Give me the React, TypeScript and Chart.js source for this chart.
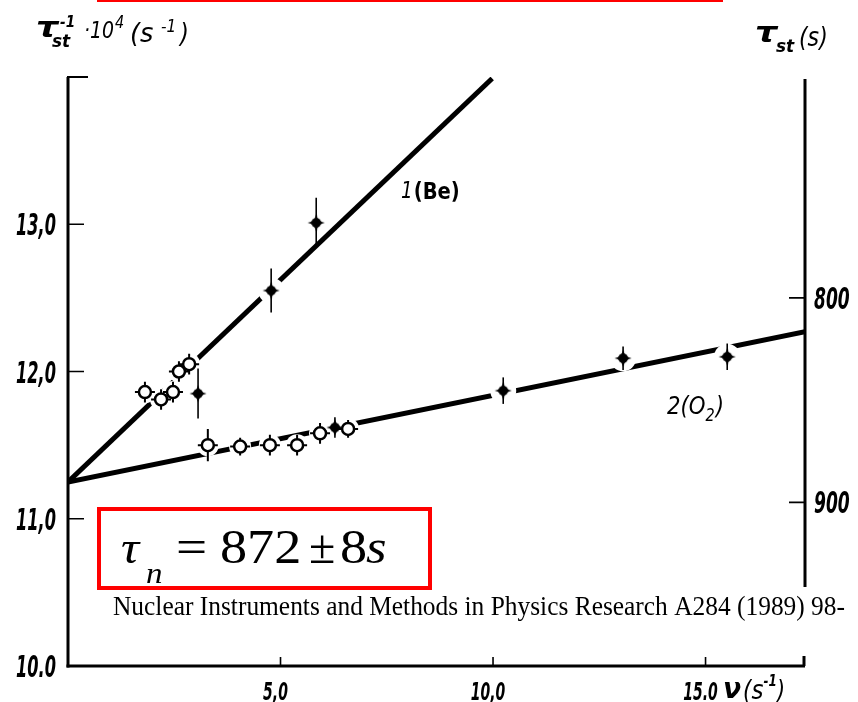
import { useEffect, useRef } from "react";
import { Chart, registerables } from "chart.js";

Chart.register(...registerables);

// ---- Measured storage rates, curve 1 (Be): open and filled symbols ----
const beOpenNu = [1.81, 2.19, 2.47, 2.61, 2.85];
const beOpenRate = [11.86, 11.81, 11.86, 12.0, 12.05];
const beOpenErr = [0.07, 0.07, 0.07, 0.07, 0.07];
const beFilledNu = [3.06, 4.78, 5.84];
const beFilledRate = [11.85, 12.55, 13.01];
const beFilledErr = [0.17, 0.15, 0.17];

// ---- Curve 2 (O2) ----
const oxOpenNu = [3.29, 4.05, 4.75, 5.39, 5.93, 6.59];
const oxOpenRate = [11.5, 11.49, 11.5, 11.5, 11.58, 11.61];
const oxOpenErr = [0.11, 0.06, 0.07, 0.07, 0.07, 0.06];
const oxFilledNu = [6.28, 10.24, 13.06, 15.51];
const oxFilledRate = [11.62, 11.87, 12.09, 12.1];
const oxFilledErr = [0.07, 0.09, 0.08, 0.09];

// ---- Straight-line fits extrapolated to nu = 0 ----
const fitBeNu = [0, 9.98];
const fitBeRate = [11.25, 13.99];
const fitOxNu = [0, 17.34];
const fitOxRate = [11.25, 12.27];

// ---- Axes ----
const nuMax = 17.34;
const rateMin = 10;
const rateMax = 14;
const rateTicks = [10, 11, 12, 13];
const rateTickLabels = ["10.0", "11,0", "12,0", "13,0"];
const nuTicks = [5, 10, 15];
const nuTickLabels = ["5,0", "10,0", "15.0"];
const tauTicks = [800, 900];
const tauTickLabels = ["800", "900"];

const SANS = '"DejaVu Sans", "Liberation Sans", sans-serif';
const SERIF = '"Liberation Serif", "DejaVu Serif", serif';

function pts(xs: number[], ys: number[]) {
  return xs.map((x, i) => ({ x, y: ys[i] }));
}

function starMarker(): HTMLCanvasElement {
  const c = document.createElement("canvas");
  c.width = 18;
  c.height = 18;
  const g = c.getContext("2d")!;
  g.fillStyle = "#000";
  g.beginPath();
  g.moveTo(9, 0.5);
  g.quadraticCurveTo(10.5, 7.5, 17.5, 9);
  g.quadraticCurveTo(10.5, 10.5, 9, 17.5);
  g.quadraticCurveTo(7.5, 10.5, 0.5, 9);
  g.quadraticCurveTo(7.5, 7.5, 9, 0.5);
  g.closePath();
  g.fill();
  g.beginPath();
  g.arc(9, 9, 4.8, 0, Math.PI * 2);
  g.fill();
  return c;
}

type Piece = { s: string; font: string; sx?: number; dy?: number; x?: number; gap?: number };

function drawText(
  ctx: CanvasRenderingContext2D,
  s: string,
  x: number,
  y: number,
  font: string,
  sx = 1,
  align: "left" | "center" | "right" = "left",
  color = "#000"
) {
  ctx.save();
  ctx.font = font;
  ctx.fillStyle = color;
  ctx.textBaseline = "alphabetic";
  ctx.textAlign = "left";
  const w = ctx.measureText(s).width * sx;
  const x0 = align === "center" ? x - w / 2 : align === "right" ? x - w : x;
  ctx.translate(x0, y);
  ctx.scale(sx, 1);
  ctx.fillText(s, 0, 0);
  ctx.restore();
  return x0 + w;
}

function drawPieces(ctx: CanvasRenderingContext2D, x: number, y: number, pieces: Piece[]) {
  let cx = x;
  for (const p of pieces) {
    const px = p.x !== undefined ? p.x : cx + (p.gap || 0);
    cx = drawText(ctx, p.s, px, y + (p.dy || 0), p.font, p.sx || 1);
  }
}

let decorDone = false;

const decorPlugin = {
  id: "decor",
  beforeDatasetsDraw() {
    decorDone = false;
  },
  beforeDatasetDraw(chart: any, args: any) {
    const ds = chart.data.datasets[args.index];
    if (!ds.errors || decorDone) return;
    decorDone = true;
    const ctx: CanvasRenderingContext2D = chart.ctx;
    const y = chart.scales.y;
    const markers = chart.data.datasets
      .map((d: any, i: number) => ({ d, meta: chart.getDatasetMeta(i) }))
      .filter((m: any) => m.d.errors);
    // white halos break the fit lines around every symbol
    ctx.save();
    ctx.fillStyle = "#fff";
    for (const m of markers) {
      for (const el of m.meta.data) {
        ctx.beginPath();
        ctx.arc(el.x, el.y, m.d.kind === "open" ? 11 : 13, 0, Math.PI * 2);
        ctx.fill();
      }
    }
    // error bars
    ctx.strokeStyle = "#000";
    for (const m of markers) {
      m.meta.data.forEach((el: any, i: number) => {
        const v = m.d.data[i].y;
        const e = m.d.errors[i];
        const top = y.getPixelForValue(v + e);
        const bot = y.getPixelForValue(v - e);
        const open = m.d.kind === "open";
        ctx.lineWidth = open ? 2 : 1.6;
        ctx.beginPath();
        ctx.moveTo(el.x, top);
        ctx.lineTo(el.x, bot);
        if (open) {
          ctx.moveTo(el.x - 10, el.y);
          ctx.lineTo(el.x + 10, el.y);
        }
        ctx.stroke();
      });
    }
    ctx.restore();
  },
  afterDraw(chart: any) {
    const ctx: CanvasRenderingContext2D = chart.ctx;
    const xs = chart.scales.x;
    const ys = chart.scales.y;
    const area = chart.chartArea;
    const L = area.left;
    const R = area.right;
    const B = area.bottom;
    const T = area.top;
    ctx.save();
    ctx.strokeStyle = "#000";
    ctx.lineCap = "butt";

    // left axis with a short cap at the top
    ctx.lineWidth = 3;
    ctx.beginPath();
    ctx.moveTo(L, T);
    ctx.lineTo(L, B + 1.5);
    ctx.stroke();
    ctx.lineWidth = 2;
    ctx.beginPath();
    ctx.moveTo(L - 1, T);
    ctx.lineTo(L + 20, T);
    ctx.stroke();

    // bottom axis
    ctx.lineWidth = 3;
    ctx.beginPath();
    ctx.moveTo(L - 1.5, B);
    ctx.lineTo(R, B);
    ctx.stroke();
    ctx.beginPath();
    ctx.moveTo(R - 1, B);
    ctx.lineTo(R - 1, B - 10);
    ctx.stroke();

    // right axis (storage time)
    ctx.beginPath();
    ctx.moveTo(R, T + 2);
    ctx.lineTo(R, 587);
    ctx.stroke();

    // ticks
    ctx.lineWidth = 1.6;
    ctx.beginPath();
    rateTicks.forEach((v) => {
      if (v === rateMin) return;
      const py = ys.getPixelForValue(v);
      ctx.moveTo(L, py);
      ctx.lineTo(L + 16, py);
    });
    nuTicks.forEach((v) => {
      const px = xs.getPixelForValue(v);
      ctx.moveTo(px, B);
      ctx.lineTo(px, B - 9);
    });
    tauTicks.forEach((t) => {
      const py = ys.getPixelForValue(1e4 / t);
      ctx.moveTo(R, py);
      ctx.lineTo(R - 16, py);
    });
    ctx.stroke();

    // tick labels
    const tickFont = `bold italic 30px ${SANS}`;
    rateTicks.forEach((v, i) => {
      const py = ys.getPixelForValue(v);
      drawText(ctx, rateTickLabels[i], 56, py + 11, tickFont, 0.54, "right");
    });
    tauTicks.forEach((t, i) => {
      const py = ys.getPixelForValue(1e4 / t);
      drawText(ctx, tauTickLabels[i], 814, py + 11, tickFont, 0.57, "left");
    });
    const xFont = `bold italic 25px ${SANS}`;
    nuTicks.forEach((v, i) => {
      const px = xs.getPixelForValue(v);
      drawText(ctx, nuTickLabels[i], px - 5, 700, xFont, 0.56, "center");
    });

    // x-axis unit
    drawPieces(ctx, 0, 0, [
      { s: "\u03bd", font: `bold italic 28px ${SANS}`, sx: 0.95, x: 723, dy: 698 },
      { s: "(", font: `italic 27px ${SANS}`, sx: 0.8, dy: 699, gap: 2 },
      { s: "s", font: `italic 27px ${SANS}`, sx: 0.85, dy: 699 },
      { s: "-1", font: `bold italic 15px ${SANS}`, sx: 0.8, dy: 686 },
      { s: ")", font: `italic 27px ${SANS}`, sx: 0.8, dy: 699 },
    ]);

    // left axis title
    drawPieces(ctx, 0, 0, [
      { s: "\u03c4", font: `bold italic 28px ${SANS}`, sx: 1.25, x: 36, dy: 37 },
      { s: "st", font: `bold italic 17px ${SANS}`, sx: 1, x: 52, dy: 47 },
      { s: "-1", font: `bold italic 16px ${SANS}`, sx: 0.85, x: 60, dy: 27 },
      { s: "\u00b710", font: `italic 23px ${SANS}`, sx: 0.82, x: 84, dy: 38 },
      { s: "4", font: `italic 17px ${SANS}`, sx: 0.85, x: 115, dy: 28 },
      { s: "(s", font: `italic 27px ${SANS}`, sx: 0.95, x: 130, dy: 42 },
      { s: "-1", font: `italic 17px ${SANS}`, sx: 0.9, x: 161, dy: 32 },
      { s: ")", font: `italic 27px ${SANS}`, sx: 0.85, x: 180, dy: 42 },
    ]);

    // right axis title
    drawPieces(ctx, 0, 0, [
      { s: "\u03c4", font: `bold italic 28px ${SANS}`, sx: 1.25, x: 755, dy: 42 },
      { s: "st", font: `bold italic 17px ${SANS}`, sx: 1, x: 776, dy: 52 },
      { s: "(s)", font: `italic 26px ${SANS}`, sx: 0.85, x: 799, dy: 46 },
    ]);

    // curve labels
    drawPieces(ctx, 0, 0, [
      { s: "1", font: `italic 23px ${SANS}`, sx: 0.8, x: 401, dy: 198 },
      { s: "(Be)", font: `bold 23px ${SANS}`, sx: 0.85, dy: 199, gap: 1 },
    ]);
    drawPieces(ctx, 0, 0, [
      { s: "2(O", font: `italic 25px ${SANS}`, sx: 0.85, x: 667, dy: 414 },
      { s: "2", font: `italic 17px ${SANS}`, sx: 0.85, dy: 421 },
      { s: ")", font: `italic 25px ${SANS}`, sx: 0.85, dy: 414, gap: 1 },
    ]);

    // result box
    ctx.fillStyle = "#ff0000";
    ctx.fillRect(97, 0, 626, 2);
    ctx.strokeStyle = "#ff0000";
    ctx.lineWidth = 4;
    ctx.strokeRect(99, 509, 331, 79);
    drawText(ctx, "\u03c4", 121, 563, `italic 46px ${SERIF}`, 1.1);
    drawText(ctx, "n", 146, 583, `italic 30px ${SERIF}`, 1.1);
    drawText(ctx, "=", 176, 563, `48px ${SERIF}`, 1.15);
    drawText(ctx, "872", 220, 563, `48px ${SERIF}`, 1.13);
    drawText(ctx, "\u00b1", 309, 563, `48px ${SERIF}`, 1.0);
    drawText(ctx, "8", 340, 563, `48px ${SERIF}`, 1.13);
    drawText(ctx, "s", 366, 563, `italic 48px ${SERIF}`, 1.1);

    // source reference
    const cite = "Nuclear Instruments and Methods in Physics Research A284 (1989) 98-";
    ctx.font = `27px ${SERIF}`;
    const cw = ctx.measureText(cite).width;
    drawText(ctx, cite, 113, 615, `27px ${SERIF}`, 732 / cw);

    ctx.restore();
  },
};

export default function App() {
  const ref = useRef<HTMLCanvasElement>(null);

  useEffect(() => {
    if (!ref.current) return;
    const star = starMarker();
    const chart = new Chart(ref.current, {
      type: "scatter",
      data: {
        datasets: [
          {
            kind: "open",
            errors: beOpenErr,
            data: pts(beOpenNu, beOpenRate),
            pointStyle: "circle",
            pointRadius: 6,
            pointBorderWidth: 2.5,
            pointBackgroundColor: "#fff",
            pointBorderColor: "#000",
            order: 1,
          } as any,
          {
            kind: "open",
            errors: oxOpenErr,
            data: pts(oxOpenNu, oxOpenRate),
            pointStyle: "circle",
            pointRadius: 6,
            pointBorderWidth: 2.5,
            pointBackgroundColor: "#fff",
            pointBorderColor: "#000",
            order: 1,
          } as any,
          {
            kind: "filled",
            errors: beFilledErr,
            data: pts(beFilledNu, beFilledRate),
            pointStyle: star,
            pointRadius: 9,
            order: 1,
          } as any,
          {
            kind: "filled",
            errors: oxFilledErr,
            data: pts(oxFilledNu, oxFilledRate),
            pointStyle: star,
            pointRadius: 9,
            order: 1,
          } as any,
          {
            type: "line",
            data: pts(fitBeNu, fitBeRate),
            borderColor: "#000",
            borderWidth: 5,
            pointRadius: 0,
            borderCapStyle: "butt",
            order: 3,
          } as any,
          {
            type: "line",
            data: pts(fitOxNu, fitOxRate),
            borderColor: "#000",
            borderWidth: 5,
            pointRadius: 0,
            borderCapStyle: "butt",
            order: 3,
          } as any,
        ],
      },
      options: {
        animation: false,
        responsive: false,
        devicePixelRatio: 1,
        layout: { padding: { left: 68, top: 77, right: 53, bottom: 36 } },
        scales: {
          x: { type: "linear", min: 0, max: nuMax, display: false },
          y: { type: "linear", min: rateMin, max: rateMax, display: false },
        },
        plugins: { legend: { display: false }, tooltip: { enabled: false } },
        events: [],
      },
      plugins: [decorPlugin],
    });
    return () => chart.destroy();
  }, []);

  return (
    <div style={{ position: "absolute", left: 0, top: 0, width: 858, height: 702, background: "#fff" }}>
      <canvas ref={ref} width={858} height={702} style={{ display: "block" }} />
    </div>
  );
}
